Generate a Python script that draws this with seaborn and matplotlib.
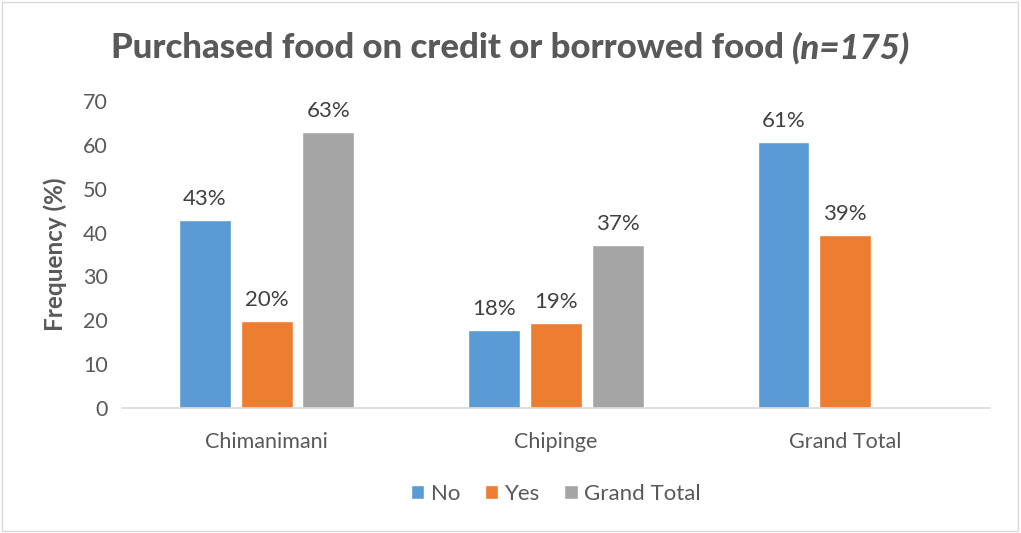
import matplotlib
matplotlib.use("Agg")
import matplotlib.pyplot as plt
from matplotlib.patches import Rectangle
import seaborn as sns
import pandas as pd
import numpy as np

# Share of households (%) that bought food on credit or borrowed food
districts = ["Chimanimani", "Chipinge", "Grand Total"]
series = ["No", "Yes", "Grand Total"]
no_vals = [42.9, 17.7, 60.6]
yes_vals = [19.9, 19.4, 39.4]
total_vals = [62.9, 37.1, np.nan]
colors = ["#5B9BD5", "#ED7D31", "#A5A5A5"]
yticks = [0, 10, 20, 30, 40, 50, 60, 70]

df = pd.DataFrame({
    "district": districts * 3,
    "answer": [s for s in series for _ in districts],
    "value": no_vals + yes_vals + total_vals,
})

sns.set_theme(style="white")
plt.rcParams["font.family"] = ["Lato", "DejaVu Sans"]
text_col = "#595959"

fig = plt.figure(figsize=(10.21, 5.33), dpi=100)
ax = fig.add_axes([0.1195, 0.2345, 0.85, 0.576])

sns.barplot(data=df, x="district", y="value", hue="answer",
            order=districts, hue_order=series, palette=colors,
            width=0.64, gap=0.16, saturation=1, ax=ax, legend=True)

for container in ax.containers:
    labels = ["" if np.isnan(v) else f"{v:.0f}%" for v in container.datavalues]
    ax.bar_label(container, labels=labels, padding=8, fontsize=16,
                 color="#404040")

ax.set_ylim(0, 70)
ax.set_yticks(yticks)
ax.set_xlim(-0.5, 2.5)
ax.tick_params(axis="both", length=0, labelsize=15.5, colors=text_col, pad=10)
ax.tick_params(axis="x", pad=17)
ax.set_xlabel("")
ax.set_ylabel("Frequency (%)", fontsize=17.5, fontweight="bold", color=text_col,
              labelpad=12)
for side in ["top", "right", "left"]:
    ax.spines[side].set_visible(False)
ax.spines["bottom"].set_color("#D9D9D9")
ax.spines["bottom"].set_linewidth(1.2)

handles, lbls = ax.get_legend_handles_labels()
ax.legend(handles, lbls, loc="center", bbox_to_anchor=(0.5, -0.28),
          ncol=3, frameon=False, fontsize=16, handlelength=0.6,
          handleheight=0.6, handletextpad=0.3, columnspacing=1.1,
          labelcolor=text_col)

# Title: bold main part followed by an italic sample-size note
main = "Purchased food on credit or borrowed food "
note = "(n=175)"
title_y = 0.91
t1 = fig.text(0, title_y, main, ha="left", va="center", fontsize=25,
              fontweight="black", color=text_col)
t2 = fig.text(0, title_y, note, ha="left", va="center", fontsize=25,
              fontweight="black", fontstyle="italic", color=text_col)
fig.canvas.draw()
r = fig.canvas.get_renderer()
w1 = t1.get_window_extent(r).width / fig.bbox.width
w2 = t2.get_window_extent(r).width / fig.bbox.width
x0 = 0.5 - (w1 + w2) / 2
t1.set_x(x0)
t2.set_x(x0 + w1)

fig.patches.append(Rectangle((0.002, 0.004), 0.995, 0.992,
                             transform=fig.transFigure, fill=False,
                             edgecolor="#D9D9D9", linewidth=1))

fig.savefig("out.png", dpi=100)
